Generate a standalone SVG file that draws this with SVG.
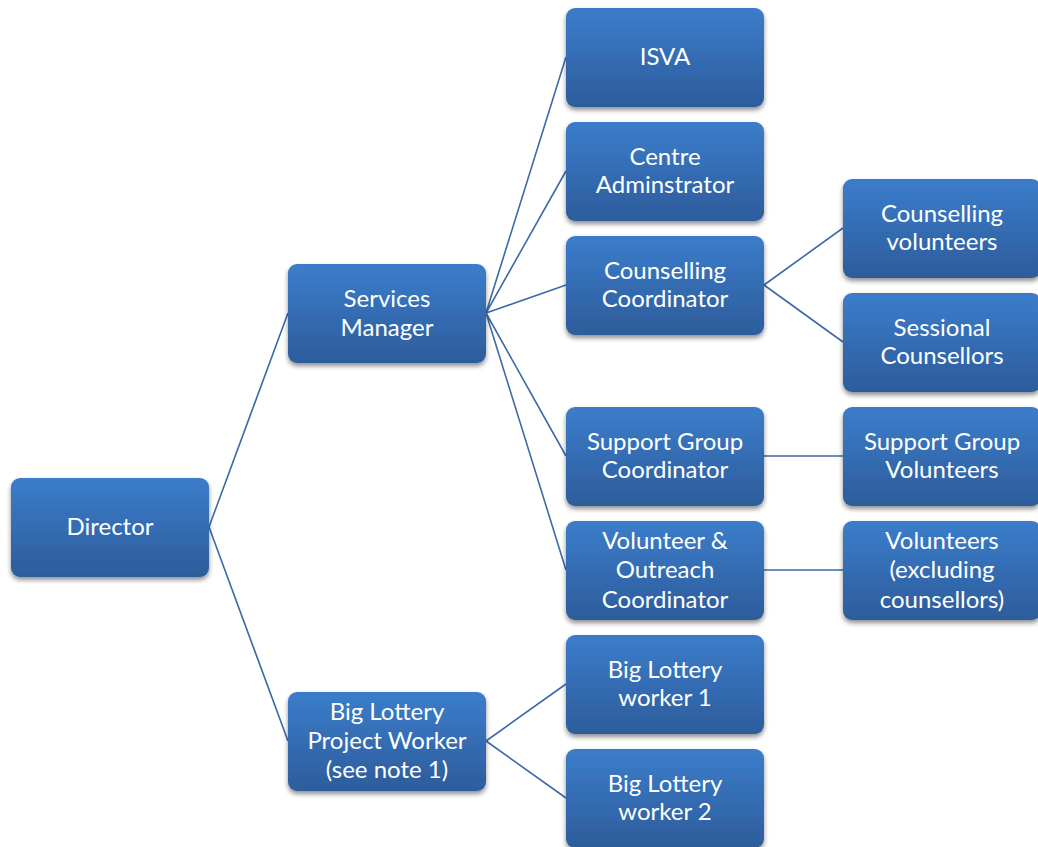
<svg xmlns="http://www.w3.org/2000/svg" width="1038" height="847" viewBox="0 0 1038 847">
<defs>
<linearGradient id="g" x1="0" y1="0" x2="0" y2="1">
<stop offset="0" stop-color="#3b7dcb"/>
<stop offset="1" stop-color="#2d5c9b"/>
</linearGradient>
<filter id="sh" x="-10%" y="-10%" width="125%" height="135%">
<feGaussianBlur in="SourceAlpha" stdDeviation="2.5"/>
<feOffset dx="0" dy="3" result="b"/>
<feComponentTransfer><feFuncA type="linear" slope="0.45"/></feComponentTransfer>
<feMerge><feMergeNode/><feMergeNode in="SourceGraphic"/></feMerge>
</filter>
</defs>
<style>
.box{fill:url(#g);filter:url(#sh)}
.t{font-family:Lato,"Open Sans","Liberation Sans",sans-serif;font-size:24px;fill:#ffffff;text-anchor:middle}
.c{stroke:#3c6aa6;stroke-width:1.6;fill:none}
</style>
<rect width="1038" height="847" fill="#ffffff"/>
<g id="connectors">
<path class="c" d="M209 527 L288 313 M209 527 L288 741"/>
<path class="c" d="M486 313 L566 57 M486 313 L566 171 M486 313 L566 285 M486 313 L566 456 M486 313 L566 570"/>
<path class="c" d="M764 285 L843 228 M764 285 L843 342 M764 456 L843 456 M764 570 L843 570"/>
<path class="c" d="M486 741 L566 684 M486 741 L566 798"/>
</g>
<g id="director"><rect class="box" x="11" y="478" width="198" height="99" rx="9"/><text class="t" x="110" y="535">Director</text></g>
<g id="services-manager"><rect class="box" x="288" y="264" width="198" height="99" rx="9"/><text class="t" x="387" y="307">Services</text><text class="t" x="387" y="336">Manager</text></g>
<g id="big-lottery-project-worker"><rect class="box" x="288" y="692" width="198" height="99" rx="9"/><text class="t" x="387" y="720">Big Lottery</text><text class="t" x="387" y="749">Project Worker</text><text class="t" x="387" y="778">(see note 1)</text></g>
<g id="isva"><rect class="box" x="566" y="8" width="198" height="99" rx="9"/><text class="t" x="665" y="65">ISVA</text></g>
<g id="centre-administrator"><rect class="box" x="566" y="122" width="198" height="99" rx="9"/><text class="t" x="665" y="165">Centre</text><text class="t" x="665" y="193">Adminstrator</text></g>
<g id="counselling-coordinator"><rect class="box" x="566" y="236" width="198" height="99" rx="9"/><text class="t" x="665" y="279">Counselling</text><text class="t" x="665" y="307">Coordinator</text></g>
<g id="support-group-coordinator"><rect class="box" x="566" y="407" width="198" height="99" rx="9"/><text class="t" x="665" y="450">Support Group</text><text class="t" x="665" y="478">Coordinator</text></g>
<g id="volunteer-outreach-coordinator"><rect class="box" x="566" y="521" width="198" height="99" rx="9"/><text class="t" x="665" y="549">Volunteer &amp;</text><text class="t" x="665" y="578">Outreach</text><text class="t" x="665" y="608">Coordinator</text></g>
<g id="big-lottery-worker-1"><rect class="box" x="566" y="635" width="198" height="99" rx="9"/><text class="t" x="665" y="678">Big Lottery</text><text class="t" x="665" y="706">worker 1</text></g>
<g id="big-lottery-worker-2"><rect class="box" x="566" y="749" width="198" height="99" rx="9"/><text class="t" x="665" y="792">Big Lottery</text><text class="t" x="665" y="820">worker 2</text></g>
<g id="counselling-volunteers"><rect class="box" x="843" y="179" width="198" height="99" rx="9"/><text class="t" x="942" y="222">Counselling</text><text class="t" x="942" y="250">volunteers</text></g>
<g id="sessional-counsellors"><rect class="box" x="843" y="293" width="198" height="99" rx="9"/><text class="t" x="942" y="336">Sessional</text><text class="t" x="942" y="364">Counsellors</text></g>
<g id="support-group-volunteers"><rect class="box" x="843" y="407" width="198" height="99" rx="9"/><text class="t" x="942" y="450">Support Group</text><text class="t" x="942" y="478">Volunteers</text></g>
<g id="volunteers"><rect class="box" x="843" y="521" width="198" height="99" rx="9"/><text class="t" x="942" y="549">Volunteers</text><text class="t" x="942" y="578">(excluding</text><text class="t" x="942" y="608">counsellors)</text></g>
</svg>
